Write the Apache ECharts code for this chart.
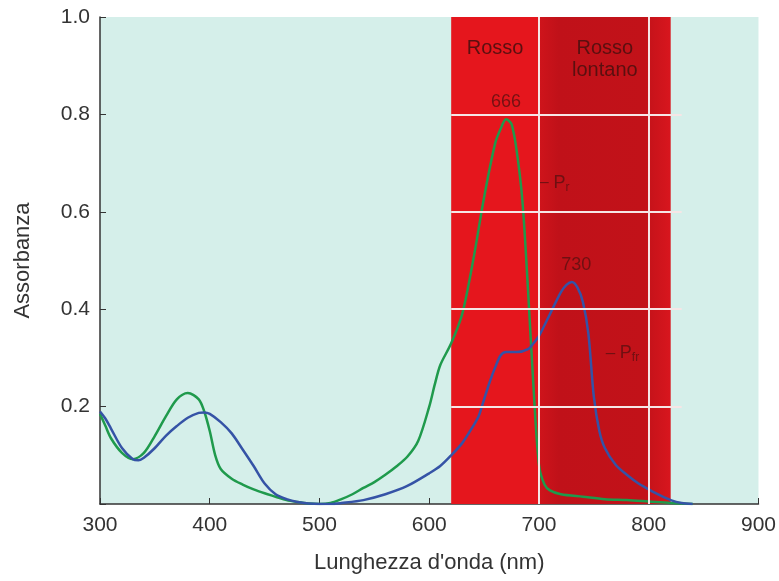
<!DOCTYPE html>
<html>
<head>
<meta charset="utf-8">
<script src="https://cdn.jsdelivr.net/npm/echarts@6/dist/echarts.min.js"></script>
<style>
  html, body { margin: 0; padding: 0; background: #fff; }
  #main { width: 779px; height: 581px; }
</style>
</head>
<body>
<div id="main"></div>
<script>
// Pr (verde) e Pfr (blu): [lunghezza d'onda nm, assorbanza]
var pr = [
  [300, 0.185], [305, 0.16], [310, 0.135], [320, 0.105], [330, 0.092], [340, 0.105],
  [350, 0.14], [360, 0.18], [370, 0.215], [380, 0.228], [390, 0.215], [395, 0.19],
  [400, 0.15], [405, 0.1], [410, 0.072], [420, 0.052], [430, 0.04], [440, 0.03],
  [450, 0.022], [460, 0.015], [470, 0.008], [480, 0.004], [490, 0.001], [500, 0],
  [510, 0.002], [520, 0.01], [530, 0.02], [540, 0.033], [550, 0.045], [560, 0.06],
  [570, 0.077], [580, 0.097], [590, 0.13], [600, 0.2], [605, 0.245], [610, 0.285],
  [620, 0.33], [630, 0.39], [640, 0.5], [650, 0.63], [660, 0.74], [665, 0.77],
  [670, 0.79], [675, 0.78], [680, 0.72], [685, 0.62], [690, 0.44], [695, 0.24],
  [700, 0.08], [705, 0.04], [710, 0.028], [720, 0.02], [740, 0.015], [760, 0.01],
  [780, 0.008], [800, 0.005], [820, 0.002], [840, 0]
];
var pfr = [
  [300, 0.19], [305, 0.175], [310, 0.155], [320, 0.115], [330, 0.092], [335, 0.09],
  [340, 0.095], [350, 0.115], [360, 0.14], [370, 0.16], [380, 0.177], [390, 0.187],
  [395, 0.188], [400, 0.185], [410, 0.168], [420, 0.145], [430, 0.112], [440, 0.078],
  [450, 0.042], [460, 0.02], [470, 0.01], [480, 0.004], [490, 0.001], [500, 0],
  [510, 0], [520, 0.002], [540, 0.008], [560, 0.02], [580, 0.037], [600, 0.063],
  [610, 0.078], [620, 0.1], [630, 0.125], [640, 0.16], [645, 0.18], [650, 0.215],
  [655, 0.25], [660, 0.28], [665, 0.305], [670, 0.312], [680, 0.312], [690, 0.318],
  [695, 0.33], [700, 0.345], [710, 0.39], [720, 0.435], [725, 0.45], [730, 0.456],
  [735, 0.445], [740, 0.415], [745, 0.35], [750, 0.22], [755, 0.15], [760, 0.115],
  [770, 0.08], [780, 0.06], [790, 0.043], [800, 0.03], [810, 0.018], [820, 0.008],
  [830, 0.002], [840, 0]
];
var bands = [
  { name: 'Rosso', from: 620, to: 700 },
  { name: 'Rosso\nlontano', from: 700, to: 820 }
];
var hGrid = [0.2, 0.4, 0.6, 0.8];
var vGrid = [700, 800];
var notes = [
  { text: '666', x: 670, y: 0.825 },
  { text: '730', x: 734, y: 0.49 },
  { text: '{d|‒ }P{s|r}', x: 714, y: 0.66 },
  { text: '{d|‒ }P{s|fr}', x: 776, y: 0.31 }
];

var chart = echarts.init(document.getElementById('main'));
var font = 'Liberation Sans, Arial, sans-serif';
var ink = '#5a1010';
var richTxt = {
  d: { color: ink, fontSize: 17, fontFamily: font },
  s: { color: ink, fontSize: 12, fontFamily: font, padding: [10, 0, 0, 0] }
};

chart.setOption({
  animation: false,
  grid: {
    left: 100, right: 19, top: 17, bottom: 77,
    show: true, backgroundColor: '#d5efea', borderWidth: 0
  },
  xAxis: {
    type: 'value', min: 300, max: 900, interval: 100,
    name: "Lunghezza d'onda (nm)", nameLocation: 'middle', nameGap: 48,
    nameTextStyle: { fontSize: 22, color: '#333', fontFamily: font },
    axisLine: { lineStyle: { color: '#333', width: 1.5 } },
    axisTick: { inside: true, length: 6, lineStyle: { color: '#333' } },
    axisLabel: { fontSize: 21, color: '#333', fontFamily: font, margin: 11 },
    splitLine: { show: false }
  },
  yAxis: {
    type: 'value', min: 0, max: 1, interval: 0.2,
    name: 'Assorbanza', nameLocation: 'middle', nameGap: 66,
    nameTextStyle: { fontSize: 22, color: '#333', fontFamily: font },
    axisLine: { show: true, lineStyle: { color: '#333', width: 1.5 } },
    axisTick: { show: true, inside: true, length: 6, lineStyle: { color: '#333' } },
    axisLabel: {
      fontSize: 21, color: '#333', fontFamily: font, margin: 10,
      formatter: function (v) { return v === 0 ? '' : v.toFixed(1); }
    },
    splitLine: { show: false }
  },
  series: [
    {
      type: 'line', data: [], silent: true,
      markArea: {
        silent: true,
        label: {
          position: 'insideTop', distance: 20, color: ink,
          fontSize: 20, fontFamily: font, lineHeight: 22
        },
        data: bands.map(function (b, i) {
          return [
            { name: b.name, xAxis: b.from, yAxis: 1,
              itemStyle: { color: i === 0 ? '#e5161d' : new echarts.graphic.LinearGradient(0, 0, 1, 0, [
                { offset: 0, color: '#cf141b' }, { offset: 0.15, color: '#c01119' },
                { offset: 0.8, color: '#c21219' }, { offset: 1, color: '#d8161e' }]) } },
            { xAxis: b.to, yAxis: 0 }
          ];
        })
      },
      markLine: {
        silent: true, symbol: 'none', label: { show: false },
        lineStyle: { color: '#f6e6e6', type: 'solid', width: 2 },
        data: hGrid.map(function (v) {
          return [{ coord: [620, v] }, { coord: [830, v] }];
        }).concat(vGrid.map(function (v) {
          return [{ coord: [v, 0] }, { coord: [v, 1] }];
        }))
      }
    },
    {
      name: 'Pr', type: 'line', data: pr, smooth: 0.3, showSymbol: false,
      lineStyle: { color: '#1f9a4c', width: 2.5 }, z: 3
    },
    {
      name: 'Pfr', type: 'line', data: pfr, smooth: 0.3, showSymbol: false,
      lineStyle: { color: '#3553a6', width: 2.5 }, z: 3
    },
    {
      type: 'scatter', symbolSize: 0, silent: true, z: 4,
      data: notes.map(function (n) { return { value: [n.x, n.y], name: n.text }; }),
      label: {
        show: true, position: 'inside', color: ink, fontSize: 18, fontFamily: font,
        formatter: function (p) { return p.name; }, rich: richTxt
      }
    }
  ]
});
</script>
</body>
</html>
